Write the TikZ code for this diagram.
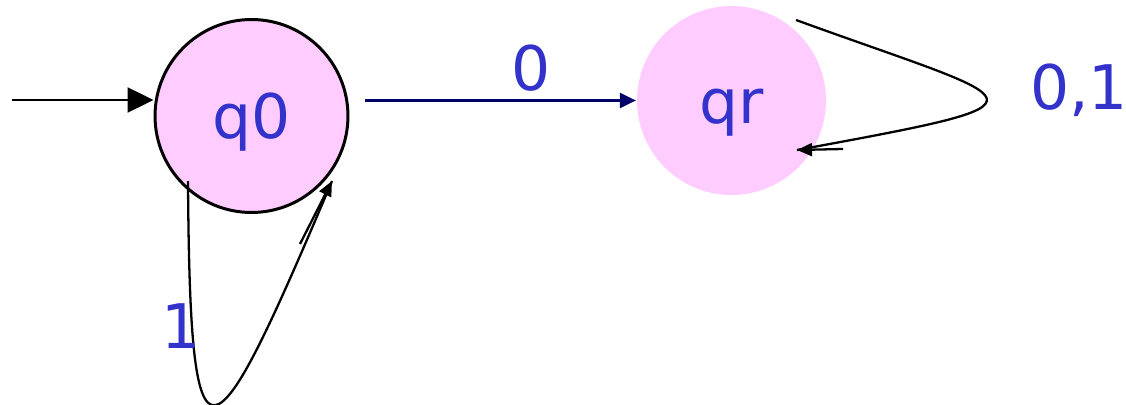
\documentclass[tikz,border=0pt]{standalone}
\usepackage{fontspec}
\setmainfont{DejaVu Sans}
\usepackage{tikz}
\usetikzlibrary{positioning, calc, arrows.meta}
\definecolor{statepink}{HTML}{FFCCFF}
\definecolor{labelblue}{HTML}{3333CC}
\definecolor{edgenavy}{HTML}{000066}

\begin{document}
\begin{tikzpicture}[%
    x=0.02cm, y=-0.02cm,   % pixel grid, y downwards
    line width=1.3pt,      % wire thickness
    stateq/.style={circle, fill=statepink, inner sep=0pt,
        text=labelblue, font=\fontsize{35}{38}\selectfont,
        text height=26pt, text depth=0pt},
    lbl/.style={text=labelblue, font=\fontsize{35}{38}\selectfont,
        anchor=base, inner sep=0pt},
    headbig/.style={-{Triangle[length=5.2mm, width=5mm]}},
    headmid/.style={-{Triangle[length=3.2mm, width=3mm]}},
    headsmall/.style={-{Triangle[length=3mm, width=2.6mm]}}
]
    \useasboundingbox (0,0) rectangle (1126,405);

    % ==========================================
    % 1. States (Nodes)
    % ==========================================
    \node[stateq, draw, line width=1.7pt, minimum size=3.86cm] (q0) at (251.5,116) {q0};
    \node[stateq, minimum size=3.78cm] (qr) at (731.5,100.5) {qr};

    % loop end points
    \coordinate (start) at (12,100);
    \coordinate (q0s) at ($(q0)+(-63.5,65)$);
    \coordinate (q0e) at ($(q0)+(80.5,65)$);
    \coordinate (q0t) at ($(q0)+(48.5,128)$);
    \coordinate (qrs) at ($(qr)+(64.5,-80.5)$);
    \coordinate (qre) at ($(qr)+(65.5,49.5)$);
    \coordinate (qrt) at ($(qr)+(111.5,48.5)$);

    % ==========================================
    % 2. Transitions (Edges)
    % ==========================================
    % --- start ---
    \draw[headbig] (start) -- (start -| q0.west);

    % --- q0 to qr ---
    \draw[headmid, edgenavy] ($(q0.east |- qr.west)+(16,0)$) -- (qr.west);
    \node[lbl] (l0) at (531,91) {0};

    % --- q0 self-loop ---
    \draw (q0s) .. controls (190,490) and (210,470) .. (q0e);
    \draw[headsmall] (q0t) -- (q0e);
    \node[lbl] (l1) at (181,348) {1};

    % --- qr self-loop ---
    \draw (qrs) .. controls (1030,105) and (1070,100) .. (qre);
    \draw[headsmall] (qrt) -- (qre);
    \node[lbl] (l01) at (1079,110) {0,1};

\end{tikzpicture}
\end{document}
